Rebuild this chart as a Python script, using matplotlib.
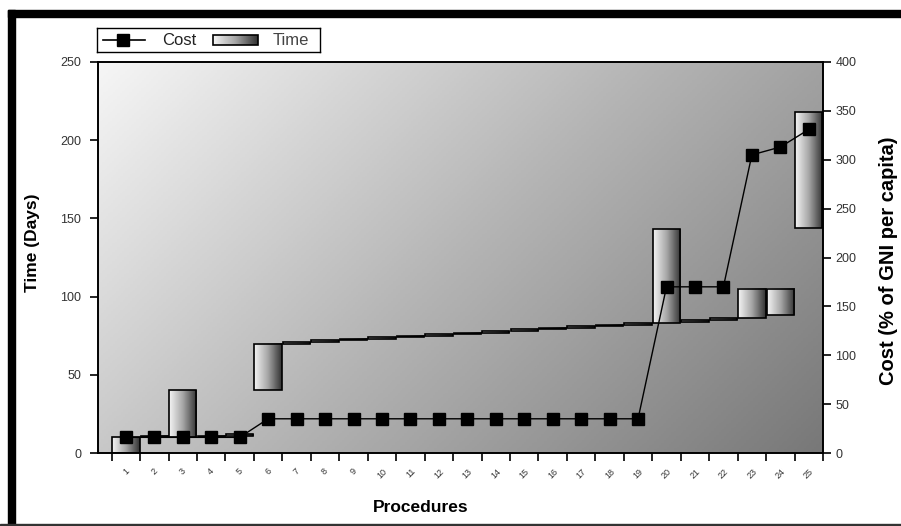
import matplotlib.pyplot as plt
import numpy as np
from matplotlib.colors import LinearSegmentedColormap
from matplotlib.patches import Rectangle

# procedures and their time windows (days) and cumulative cost (% of GNI per capita)
procedures = [str(i) for i in range(1, 26)]
time_start = [0, 10, 10, 10, 11, 40, 70, 71, 72, 73, 74, 75, 76, 77, 78,
              79, 80, 81, 82, 83, 84, 85, 86, 88, 144]
time_end = [10, 11, 40, 11, 12, 70, 71, 72, 73, 74, 75, 76, 77, 78, 79,
            80, 81, 82, 83, 143, 85, 86, 105, 105, 218]
cost = [16, 16, 16, 16, 16, 35, 35, 35, 35, 35, 35, 35, 35, 35, 35,
        35, 35, 35, 35, 170, 170, 170, 305, 313, 331]

plt.rcParams['font.family'] = ['Liberation Sans', 'DejaVu Sans']

W, H = 901, 526
fig = plt.figure(figsize=(W / 100, H / 100), dpi=100)
ax = fig.add_axes([98 / W, 1 - 453 / H, (823 - 98) / W, (453 - 62) / H])

# diagonal grey fill of the plot area
bg_cmap = LinearSegmentedColormap.from_list('bg', ['#f6f6f6', '#b4b4b4', '#787878'])
gx, gy = np.meshgrid(np.linspace(0, 1, 300), np.linspace(0, 1, 300))
bg = (gx * 725 + gy * 391) / (725 + 391)
ax.imshow(bg, cmap=bg_cmap, extent=[0, 1, 0, 1], transform=ax.transAxes,
          aspect='auto', zorder=0, vmin=0, vmax=1)

# floating time bars with a left-to-right shading
bar_cmap = LinearSegmentedColormap.from_list('bar', ['#f4f4f4', '#a6a6a6', '#333333'])
grad = np.linspace(0, 1, 64).reshape(1, -1)
for i, (s, e) in enumerate(zip(time_start, time_end)):
    ax.imshow(grad, cmap=bar_cmap, extent=[i - 0.48, i + 0.48, s, e],
              aspect='auto', zorder=2)
    ax.add_patch(Rectangle((i - 0.48, s), 0.96, e - s, fill=False,
                           ec='black', lw=1.2, zorder=3))

ax.set_xlim(-0.98, 24.5)
ax.set_ylim(0, 250)
ax.set_yticks(range(0, 251, 50))
ax.set_xticks(np.arange(-0.5, 25, 1))
ax.set_xticklabels([])
ax.set_xticks(range(25), minor=True)
ax.set_xticklabels(procedures, minor=True, rotation=45, fontsize=6.5,
                   color='#333333', ha='center', va='top')
ax.tick_params(axis='x', which='major', length=6, width=1.2, direction='out')
ax.tick_params(axis='x', which='minor', length=0, pad=10)
ax.tick_params(axis='y', length=6, width=1.2, pad=6, labelsize=9,
               labelcolor='#333333')
for sp in ax.spines.values():
    sp.set_linewidth(1.2)

ax2 = ax.twinx()
ax2.plot(range(25), cost, color='black', lw=1, marker='s', ms=9, zorder=5)
ax2.set_ylim(0, 400)
ax2.set_yticks(range(0, 401, 50))
ax2.tick_params(axis='y', length=6, width=1.2, pad=3, labelsize=9,
                labelcolor='#333333')
for sp in ax2.spines.values():
    sp.set_linewidth(1.2)

fig.text(33 / W, 1 - 243 / H, 'Time (Days)', rotation=90, ha='center',
         va='center', fontsize=12.5, fontweight='bold')
fig.text(888 / W, 1 - 261 / H, 'Cost (% of GNI per capita)', rotation=90,
         ha='center', va='center', fontsize=14.5, fontweight='bold')
fig.text(421 / W, 1 - 507 / H, 'Procedures', ha='center', va='center',
         fontsize=12.5, fontweight='bold')

# legend box drawn in pixel units
lax = fig.add_axes([97 / W, 1 - 52 / H, (320 - 97) / W, (52 - 28) / H])
lax.plot([103, 145], [40, 40], color='black', lw=1.2)
lax.plot([123], [40], marker='s', ms=9, color='black')
lax.text(162, 40.5, 'Cost', va='center', fontsize=12, color='#222222')
lax.imshow(grad, cmap=bar_cmap, extent=[213, 258, 45, 35], aspect='auto')
lax.add_patch(Rectangle((213, 35), 45, 10, fill=False, ec='black', lw=1.2))
lax.text(273, 40.5, 'Time', va='center', fontsize=12, color='#444444')
lax.set_xlim(97, 320)
lax.set_ylim(52, 28)
lax.set_xticks([])
lax.set_yticks([])
for sp in lax.spines.values():
    sp.set_linewidth(1)

# heavy frame on the left and top edges
fig.add_artist(Rectangle((8 / W, 0), 7 / W, 1 - 10 / H, transform=fig.transFigure,
                         color='black'))
fig.add_artist(Rectangle((8 / W, 1 - 17 / H), 1 - 8 / W, 7 / H,
                         transform=fig.transFigure, color='black'))
fig.add_artist(Rectangle((0, 0), 1, 2 / H, transform=fig.transFigure,
                         color='#333333'))

fig.savefig('out.png', dpi=100)
